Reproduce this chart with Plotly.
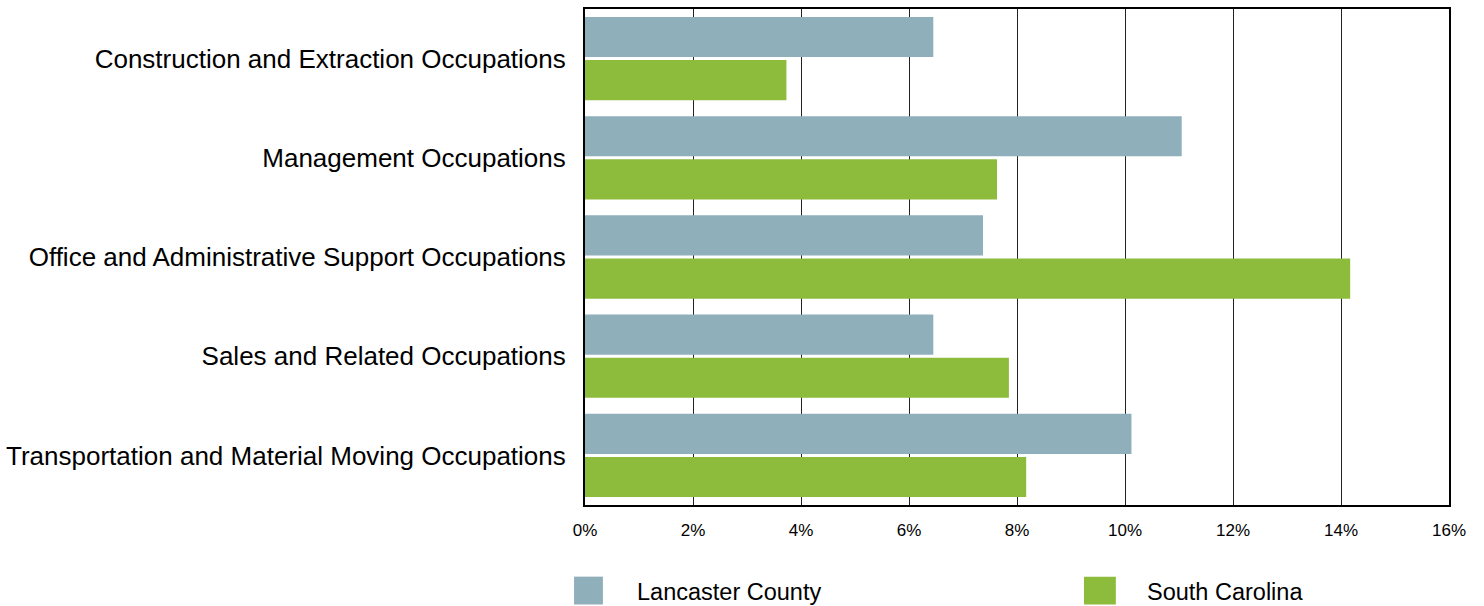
import plotly.graph_objects as go

categories = [
    "Construction and Extraction Occupations",
    "Management Occupations",
    "Office and Administrative Support Occupations",
    "Sales and Related Occupations",
    "Transportation and Material Moving Occupations",
]
lancaster = [6.45, 11.05, 7.37, 6.45, 10.12]
south_carolina = [3.73, 7.63, 14.17, 7.85, 8.17]
series_names = ["Lancaster County", "South Carolina"]
colors = ["#8FAFBA", "#8DBC3C"]
tick_vals = [0, 2, 4, 6, 8, 10, 12, 14, 16]
tick_text = [f"{v}%" for v in tick_vals]

W, H = 1484, 606
L, R, T, B = 582, 34.5, 6.5, 101
pw, ph = W - L - R, H - T - B

fig = go.Figure()
for name, vals, col in zip(series_names, [lancaster, south_carolina], colors):
    fig.add_trace(go.Bar(y=categories, x=vals, orientation="h", name=name,
                         marker=dict(color=col, line=dict(width=0)), showlegend=False))

font = "Liberation Sans, Arial, sans-serif"
fig.update_layout(
    width=W, height=H, barmode="group", bargap=0.13, bargroupgap=0.07,
    margin=dict(l=L, r=R, t=T, b=B, pad=0),
    plot_bgcolor="white", paper_bgcolor="white",
    font=dict(family=font, color="#000"),
    xaxis=dict(range=[0, 16], tickvals=tick_vals, ticktext=tick_text,
               showgrid=True, gridcolor="#222", gridwidth=1,
               showline=True, linecolor="#000", linewidth=2, mirror=True,
               zeroline=False, ticks="", ticklabelstandoff=9,
               tickfont=dict(size=17, family=font)),
    yaxis=dict(autorange="reversed", showline=True, linecolor="#000", linewidth=2,
               mirror=True, ticks="", ticklabelstandoff=12,
               tickfont=dict(size=26, family=font)),
)

def px2x(px):
    return (px - L) / pw

def py2y(py):
    return (H - B - py) / ph

legend_items = [(571, 600, 632), (1083, 1115, 1144)]
for (x0, x1, tx), name, col in zip(legend_items, series_names, colors):
    fig.add_shape(type="rect", xref="paper", yref="paper",
                  x0=px2x(x0), x1=px2x(x1), y0=py2y(605), y1=py2y(577),
                  fillcolor=col, line=dict(width=0))
    fig.add_annotation(xref="paper", yref="paper", x=px2x(tx), y=py2y(592),
                       text=name, showarrow=False, xanchor="left", yanchor="middle",
                       font=dict(size=23.5, family=font, color="#000"))

fig.write_html("out.html", config={"displayModeBar": False},
               post_script="document.body.style.margin='0';document.body.style.overflow='hidden';")
